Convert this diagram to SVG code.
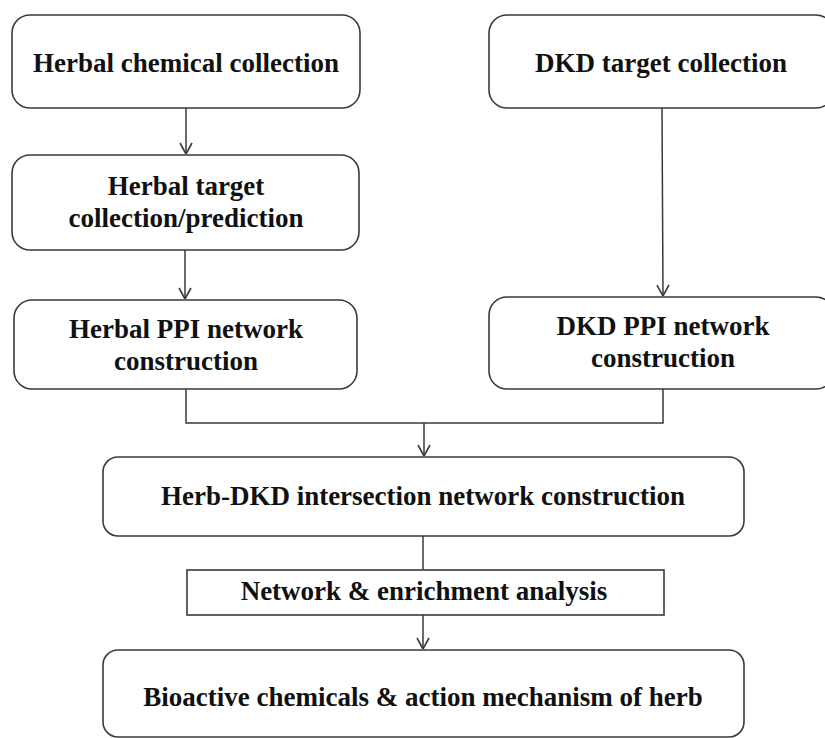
<svg xmlns="http://www.w3.org/2000/svg" width="825" height="738" viewBox="0 0 825 738">
  <defs>
    <style>
      .box { fill: #ffffff; stroke: #3a3a3a; stroke-width: 1.6; }
      .lbl { font-family: "Liberation Serif", "Times New Roman", serif; font-weight: bold; font-size: 27px; fill: #111111; text-anchor: middle; }
      .conn { fill: none; stroke: #3a3a3a; stroke-width: 1.5; }
    </style>
    <marker id="arr" viewBox="0 0 12 14" refX="12" refY="7" markerWidth="12" markerHeight="14" markerUnits="userSpaceOnUse" orient="auto">
      <path d="M1,1 L12,7 L1,13" fill="none" stroke="#3a3a3a" stroke-width="1.6"/>
    </marker>
  </defs>
  <rect width="825" height="738" fill="#ffffff"/>

  <g id="connectors">
    <line class="conn" x1="186" y1="108" x2="186" y2="154" marker-end="url(#arr)"/>
    <line class="conn" x1="185" y1="250" x2="185" y2="299" marker-end="url(#arr)"/>
    <line class="conn" x1="662" y1="108" x2="663" y2="296" marker-end="url(#arr)"/>
    <path class="conn" d="M186,389 V423 H663 V389"/>
    <line class="conn" x1="424" y1="423" x2="424" y2="456" marker-end="url(#arr)"/>
    <line class="conn" x1="423" y1="536" x2="423" y2="570"/>
    <line class="conn" x1="423" y1="615" x2="423" y2="649" marker-end="url(#arr)"/>
  </g>

  <g id="herbal-chemical">
    <rect class="box" x="12" y="15" width="348" height="93" rx="18"/>
    <text class="lbl" x="186" y="72">Herbal chemical collection</text>
  </g>
  <g id="herbal-target">
    <rect class="box" x="12" y="155" width="347" height="95" rx="18"/>
    <text class="lbl" x="186" y="195">Herbal target</text>
    <text class="lbl" x="186" y="227">collection/prediction</text>
  </g>
  <g id="herbal-ppi">
    <rect class="box" x="14" y="300" width="343" height="89" rx="18"/>
    <text class="lbl" x="186" y="338">Herbal PPI network</text>
    <text class="lbl" x="186" y="370">construction</text>
  </g>
  <g id="dkd-target">
    <rect class="box" x="489" y="15" width="345" height="93" rx="18"/>
    <text class="lbl" x="661" y="72">DKD target collection</text>
  </g>
  <g id="dkd-ppi">
    <rect class="box" x="489" y="297" width="345" height="92" rx="18"/>
    <text class="lbl" x="663" y="335">DKD PPI network</text>
    <text class="lbl" x="663" y="367">construction</text>
  </g>
  <g id="intersection">
    <rect class="box" x="103" y="457" width="641" height="79" rx="15"/>
    <text class="lbl" x="423" y="505">Herb-DKD intersection network construction</text>
  </g>
  <g id="analysis">
    <rect class="box" x="187" y="570" width="477" height="45"/>
    <text class="lbl" x="424" y="600">Network &amp; enrichment analysis</text>
  </g>
  <g id="bioactive">
    <rect class="box" x="103" y="650" width="641" height="87" rx="15"/>
    <text class="lbl" x="423" y="706">Bioactive chemicals &amp; action mechanism of herb</text>
  </g>
</svg>
